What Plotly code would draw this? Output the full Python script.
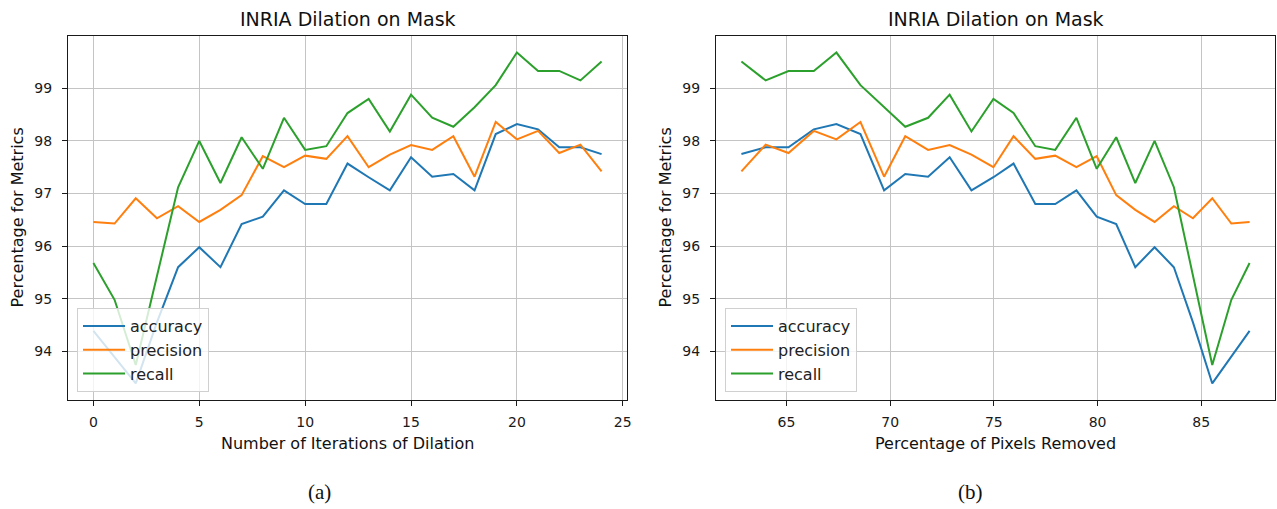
import plotly.graph_objects as go

# Metrics per number of dilation iterations (0..24)
iterations = list(range(25))
accuracy = [94.39, 93.90, 93.39, 94.55, 95.60, 95.98, 95.60, 96.42, 96.56, 97.06,
            96.80, 96.80, 97.57, 97.31, 97.06, 97.69, 97.32, 97.37, 97.06, 98.13,
            98.32, 98.22, 97.88, 97.88, 97.75]
precision = [96.46, 96.43, 96.91, 96.53, 96.76, 96.46, 96.69, 96.97, 97.71, 97.50,
             97.72, 97.66, 98.09, 97.50, 97.74, 97.92, 97.83, 98.09, 97.32, 98.36,
             98.03, 98.19, 97.77, 97.93, 97.42]
recall = [95.68, 94.98, 93.74, 95.42, 97.12, 98.00, 97.20, 98.07, 97.47, 98.44,
          97.83, 97.90, 98.53, 98.80, 98.18, 98.88, 98.44, 98.27, 98.64, 99.06,
          99.68, 99.33, 99.33, 99.15, 99.51]
# Percentage of mask pixels removed at each iteration count
pixels_removed = [87.33, 86.45, 85.53, 84.60, 83.68, 82.75, 81.82, 80.90, 79.96, 78.98,
                  77.96, 77.00, 75.95, 74.98, 73.92, 72.87, 71.83, 70.73, 69.71, 68.57,
                  67.41, 66.32, 65.10, 64.00, 62.83]

series_names = ["accuracy", "precision", "recall"]
series_values = [accuracy, precision, recall]
colors = ["#1f77b4", "#ff7f0e", "#2ca02c"]

W, H = 1277, 509
FONT = "DejaVu Sans"

def px_x(p):
    return p / W

def px_y(p):
    return 1 - p / H

fig = go.Figure()
for name, vals, col in zip(series_names, series_values, colors):
    fig.add_trace(go.Scatter(x=iterations, y=vals, name=name, mode="lines",
                             line=dict(color=col, width=2), xaxis="x", yaxis="y",
                             legend="legend", legendgroup=name + "a"))
for name, vals, col in zip(series_names, series_values, colors):
    fig.add_trace(go.Scatter(x=pixels_removed, y=vals, name=name, mode="lines",
                             line=dict(color=col, width=2), xaxis="x2", yaxis="y2",
                             legend="legend2", legendgroup=name + "b"))

all_vals = accuracy + precision + recall
span = max(all_vals) - min(all_vals)
yr = [min(all_vals) - 0.05 * span, max(all_vals) + 0.05 * span]
xs = max(iterations) - min(iterations)
xr1 = [min(iterations) - 0.05 * xs, max(iterations) + 0.05 * xs]
ps = max(pixels_removed) - min(pixels_removed)
xr2 = [min(pixels_removed) - 0.05 * ps, max(pixels_removed) + 0.05 * ps]

ydom = [px_y(400), px_y(36)]
axis_common = dict(showline=True, mirror=True, linecolor="#1a1a1a", linewidth=1.2,
                   showgrid=True, gridcolor="#c4c4c4", gridwidth=1,
                   ticks="outside", ticklen=5, tickcolor="#1a1a1a", tickwidth=1,
                   tickfont=dict(family=FONT, size=14, color="#1a1a1a"),
                   zeroline=False, automargin=False)

legend_common = dict(xanchor="left", yanchor="bottom",
                     bgcolor="rgba(255,255,255,0.8)", bordercolor="#d0d0d0", borderwidth=1,
                     font=dict(family=FONT, size=16, color="#222"),
                     tracegroupgap=0, itemwidth=42)

fig.update_layout(
    width=W, height=H,
    margin=dict(l=0, r=0, t=0, b=0),
    paper_bgcolor="white", plot_bgcolor="white",
    xaxis=dict(domain=[px_x(68), px_x(627)], range=xr1, anchor="y",
               tickvals=[0, 5, 10, 15, 20, 25], ticklabelstandoff=4, **axis_common),
    yaxis=dict(domain=ydom, range=yr, anchor="x",
               tickvals=[94, 95, 96, 97, 98, 99], ticklabelstandoff=7, **axis_common),
    xaxis2=dict(domain=[px_x(716), px_x(1275)], range=xr2, anchor="y2",
                tickvals=[65, 70, 75, 80, 85], ticklabelstandoff=4, **axis_common),
    yaxis2=dict(domain=ydom, range=yr, anchor="x2",
                tickvals=[94, 95, 96, 97, 98, 99], ticklabelstandoff=7, **axis_common),
    legend=dict(x=px_x(77), y=px_y(392), **legend_common),
    legend2=dict(x=px_x(725), y=px_y(392), **legend_common),
    showlegend=True,
)

def text(x, y, s, size, family=FONT, angle=0):
    fig.add_annotation(x=px_x(x), y=px_y(y), xref="paper", yref="paper", text=s,
                       showarrow=False, xanchor="center", yanchor="middle",
                       textangle=angle, font=dict(family=family, size=size, color="#111"))

for cx in (347.5, 995.5):
    text(cx, 19, "INRIA Dilation on Mask", 19)
text(347.5, 443, "Number of Iterations of Dilation", 16)
text(995.5, 443, "Percentage of Pixels Removed", 16)
text(16.5, 218, "Percentage for Metrics", 16, angle=-90)
text(664.5, 218, "Percentage for Metrics", 16, angle=-90)
text(319, 492, "(a)", 21, family="Liberation Serif")
text(970, 492, "(b)", 21, family="Liberation Serif")

fig.write_html("out.html")
